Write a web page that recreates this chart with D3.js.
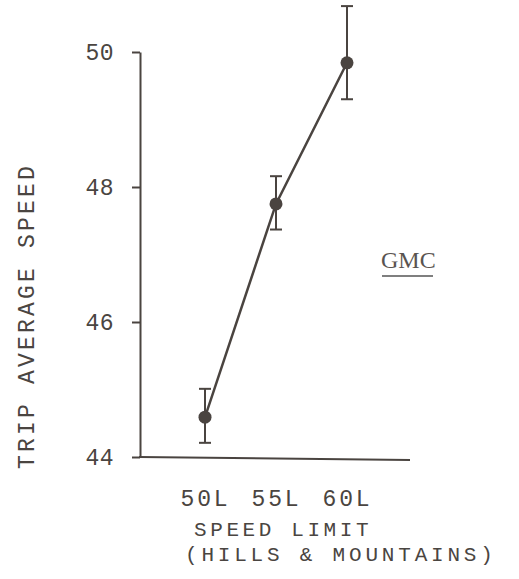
<!DOCTYPE html>
<html lang="en">
<head>
    <meta charset="UTF-8">
    <title>Trip Average Speed</title>
    <script src="https://d3js.org/d3.v7.min.js"></script>
    <style>
        body { margin: 0; background: #fff; }
        svg text { font-family: "Liberation Mono", "DejaVu Sans Mono", monospace; fill: #4a4541; }
        .axis path, .axis line { stroke: #4a4440; stroke-width: 2px; }
        .axis text { font-size: 23px; letter-spacing: 0.5px; }
    </style>
</head>
<body>
    <svg id="chart" width="519" height="579"></svg>
    <script>
        // speed limit groups
        var categories = ["50L", "55L", "60L"];
        // trip average speed, mean and error bar ends
        var means = [44.59, 47.75, 49.84];
        var lows  = [44.21, 47.37, 49.30];
        var highs = [45.01, 48.16, 50.68];
        var yTicks = [44, 46, 48, 50];

        var data = categories.map(function(c, i) {
            return {cat: c, mean: means[i], low: lows[i], high: highs[i]};
        });

        var ink = "#4a4440";
        var svg = d3.select("#chart");

        var x = d3.scalePoint().domain(categories).range([205, 347]);
        var y = d3.scaleLinear().domain([44, 50]).range([457, 52]);

        // y axis
        svg.append("g")
            .attr("class", "axis")
            .attr("transform", "translate(140,0)")
            .call(d3.axisLeft(y).tickValues(yTicks).tickSize(8).tickSizeOuter(0).tickPadding(18)
                .tickFormat(d3.format("d")));

        // x axis line
        svg.append("line")
            .attr("x1", 139).attr("x2", 410)
            .attr("y1", y(44)).attr("y2", y(44) + 3)
            .attr("stroke", ink).attr("stroke-width", 2);

        var xAxis = svg.append("g")
            .attr("class", "axis")
            .attr("transform", "translate(0," + y(44) + ")")
            .call(d3.axisBottom(x).tickSize(0).tickPadding(33));
        xAxis.select(".domain").remove();
        xAxis.selectAll("text").style("letter-spacing", "2.8px");

        // x title
        svg.append("text")
            .attr("x", 194).attr("y", 536)
            .style("font-size", "21px").style("letter-spacing", "3.6px")
            .text("SPEED LIMIT");
        svg.append("text")
            .attr("x", 185).attr("y", 561)
            .style("font-size", "21px").style("letter-spacing", "3.8px")
            .text("(HILLS & MOUNTAINS)");

        // y title
        svg.append("text")
            .attr("transform", "translate(34,316) rotate(-90)")
            .attr("text-anchor", "middle")
            .style("font-size", "23px").style("letter-spacing", "3.2px")
            .text("TRIP AVERAGE SPEED");

        // line
        var line = d3.line()
            .x(function(d) { return x(d.cat); })
            .y(function(d) { return y(d.mean); });

        svg.append("path")
            .datum(data)
            .attr("d", line)
            .attr("fill", "none")
            .attr("stroke", ink)
            .attr("stroke-width", 2.5);

        // error bars
        var bars = svg.selectAll(".err").data(data).enter().append("g").attr("class", "err");
        bars.append("line")
            .attr("x1", function(d) { return x(d.cat); })
            .attr("x2", function(d) { return x(d.cat); })
            .attr("y1", function(d) { return y(d.low); })
            .attr("y2", function(d) { return y(d.high); })
            .attr("stroke", ink).attr("stroke-width", 2);
        ["low", "high"].forEach(function(k) {
            bars.append("line")
                .attr("x1", function(d) { return x(d.cat) - 6; })
                .attr("x2", function(d) { return x(d.cat) + 6; })
                .attr("y1", function(d) { return y(d[k]); })
                .attr("y2", function(d) { return y(d[k]); })
                .attr("stroke", ink).attr("stroke-width", 2);
        });

        // points
        svg.selectAll(".pt").data(data).enter().append("circle")
            .attr("class", "pt")
            .attr("cx", function(d) { return x(d.cat); })
            .attr("cy", function(d) { return y(d.mean); })
            .attr("r", 6.5)
            .attr("fill", ink);

        // GMC label
        svg.append("text")
            .attr("x", 381).attr("y", 268)
            .style("font-family", "'Liberation Serif', serif")
            .style("font-size", "24px")
            .style("fill", "#5a5450")
            .text("GMC");
        svg.append("line")
            .attr("x1", 382).attr("x2", 433)
            .attr("y1", 276).attr("y2", 276)
            .attr("stroke", "#555").attr("stroke-width", 1.5);
    </script>
</body>
</html>
